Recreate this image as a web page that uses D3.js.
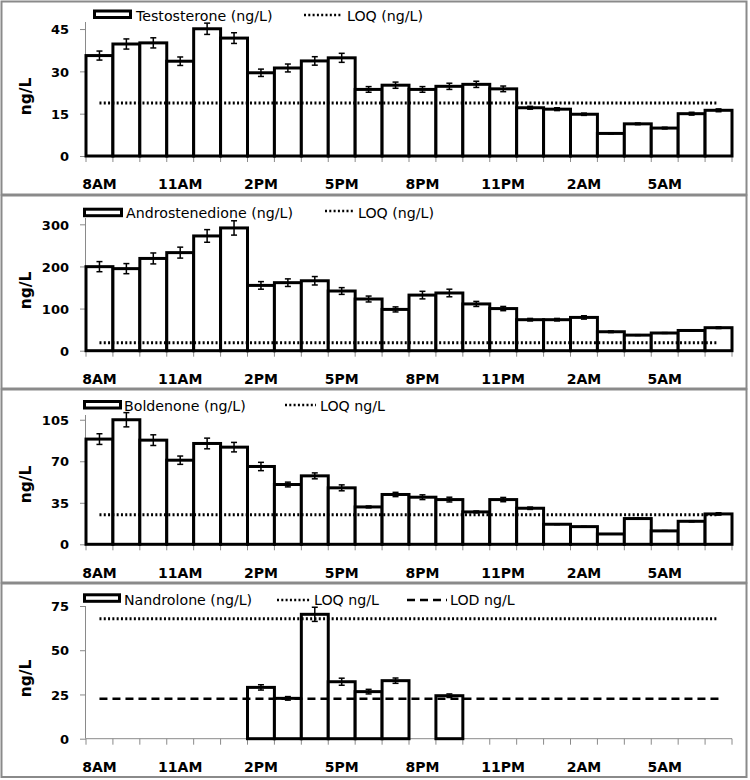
<!DOCTYPE html>
<html>
<head>
<meta charset="utf-8">
<script src="https://cdn.jsdelivr.net/npm/d3@7"></script>
<style>
  html, body { margin: 0; padding: 0; background: #fff; }
  svg { display: block; }
  text { font-family: "DejaVu Sans", sans-serif; }
</style>
</head>
<body>
<svg id="chart" width="750" height="780"></svg>
<script>
// ---------- DATA ----------
const hours = ["8AM","9AM","10AM","11AM","12PM","1PM","2PM","3PM","4PM","5PM","6PM","7PM",
               "8PM","9PM","10PM","11PM","12AM","1AM","2AM","3AM","4AM","5AM","6AM","7AM"];
const shownHourLabels = ["8AM","11AM","2PM","5PM","8PM","11PM","2AM","5AM"];

const testosterone    = [35.6,39.7,40.1,33.6,45.1,41.8,29.5,31.2,33.7,34.8,23.6,25.1,23.6,24.7,25.4,23.8,17.1,16.6,14.8,8.0,11.4,9.9,15.0,16.2];
const testosteroneErr = [1.6,1.8,1.8,1.5,2.0,1.9,1.3,1.4,1.5,1.6,1.0,1.1,1.0,1.1,1.1,1.0,0.5,0.5,0.4,0.2,0.3,0.3,0.5,0.5];
const testosteroneLOQ = 18.8;
const testosteroneTicks = [0,15,30,45];

const androstenedione    = [199.5,194.8,219,232.8,272.4,291.4,155,161.5,166,141.7,122.7,98,132,137,111,100,73.6,73.6,79,45,37,42,48,54.6];
const androstenedioneErr = [12,12,13,13,15,17,9,9,10,8,7,6,9,9,6,5,3,3,4,2,1,1,1,2];
const androstenedioneLOQ = 19;
const androstenedioneTicks = [0,100,200,300];

const boldenone    = [88.7,105,87.8,70.9,85,81.9,65.6,50.4,57.7,47.6,31.5,42,39.7,37.7,27.3,37.7,30.4,16.9,14.9,8.7,21.7,11.3,19.4,25.6];
const boldenoneErr = [4.5,6,4.5,3.5,4.5,4,3.5,2,2.5,2.5,0.8,1.8,2,2,0.8,1.8,1,0.3,0.2,0.2,0.5,0.3,0.5,1];
const boldenoneLOQ = 25;
const boldenoneTicks = [0,35,70,105];

const nandrolone    = [null,null,null,null,null,null,29.0,22.8,70.3,32.2,26.6,32.8,null,24.3,null,null,null,null,null,null,null,null,null,null];
const nandroloneErr = [null,null,null,null,null,null,1.5,1.0,4.0,2.0,1.3,1.5,null,1.0,null,null,null,null,null,null,null,null,null,null];
const nandroloneLOQ = 67.8;
const nandroloneLOD = 22.6;
const nandroloneTicks = [0,25,50,75];

const seriesNames = ["Testosterone (ng/L)","Androstenedione (ng/L)","Boldenone (ng/L)","Nandrolone (ng/L)"];
const loqNames    = ["LOQ (ng/L)","LOQ (ng/L)","LOQ ng/L","LOQ ng/L"];
const lodName     = "LOD ng/L";
const yAxisTitle  = "ng/L";
const axisMax     = [47.5, 315, 109, 75];

// ---------- LAYOUT ----------
const layout = [
  {top:1,   bottom:195, plotTop:22,  base:156,   lg:{rx:94.5,ry:11,  rw:36, tx:136, ty:20.5, lx1:304, lx2:342, ly:15,  ltx:347}, xl:189},
  {top:195, bottom:389, plotTop:218, base:350.7, lg:{rx:84.5,ry:209.2,rw:37, tx:126, ty:217.7,lx1:325, lx2:353, ly:211, ltx:358}, xl:384},
  {top:389, bottom:583, plotTop:415, base:544.3, lg:{rx:84.5,ry:401.5,rw:36, tx:124, ty:410.7,lx1:285, lx2:316, ly:405, ltx:320}, xl:578.3},
  {top:583, bottom:777.5,plotTop:606,base:738.7, lg:{rx:84.5,ry:594.8,rw:35, tx:124, ty:605,  lx1:277, lx2:311, ly:600, ltx:314, dx1:407, dx2:447, dtx:450}, xl:772.3}
];

const panels = [
  {values:testosterone, err:testosteroneErr, loq:testosteroneLOQ, ticks:testosteroneTicks},
  {values:androstenedione, err:androstenedioneErr, loq:androstenedioneLOQ, ticks:androstenedioneTicks},
  {values:boldenone, err:boldenoneErr, loq:boldenoneLOQ, ticks:boldenoneTicks},
  {values:nandrolone, err:nandroloneErr, loq:nandroloneLOQ, lod:nandroloneLOD, ticks:nandroloneTicks}
];

const svg = d3.select("#chart");
const x = d3.scaleBand().domain(hours).range([86, 732]).padding(0);
const gray = "#8a8a8a";

panels.forEach((p, i) => {
  const L = layout[i];
  const g = svg.append("g");
  // panel border
  g.append("rect").attr("x", 1.5).attr("y", L.top + 0.5)
    .attr("width", 745).attr("height", L.bottom - L.top - 1)
    .attr("fill", "none").attr("stroke", gray).attr("stroke-width", 2);

  const y = d3.scaleLinear().domain([0, axisMax[i]]).range([L.base, L.plotTop]);

  // y axis
  const ya = g.append("g").attr("transform", `translate(86,0)`)
    .call(d3.axisLeft(y).tickValues(p.ticks).tickSize(6).tickFormat(d3.format("d")));
  ya.select(".domain").attr("stroke", gray).attr("stroke-width", 1)
    .attr("d", `M-0.5,${L.base}V${L.plotTop}`);
  ya.selectAll(".tick line").attr("stroke", gray);
  ya.selectAll(".tick text").attr("x", -17).attr("dy", "0.36em")
    .style("font-size", "13px").style("font-weight", "bold")
    .style("font-family", "DejaVu Sans").attr("fill", "#000");

  // x axis ticks at band boundaries
  const bounds = hours.map(h => x(h)).concat([x(hours[hours.length-1]) + x.bandwidth()]);
  g.append("line").attr("x1", 86).attr("x2", 732).attr("y1", L.base).attr("y2", L.base)
    .attr("stroke", gray).attr("stroke-width", 1);
  g.selectAll(".xt").data(bounds).enter().append("line")
    .attr("x1", d => d).attr("x2", d => d)
    .attr("y1", L.base).attr("y2", L.base + 6)
    .attr("stroke", gray).attr("stroke-width", 1);

  // x labels
  g.selectAll(".xl").data(shownHourLabels).enter().append("text")
    .attr("x", d => x(d) + x.bandwidth() / 2).attr("y", L.xl)
    .attr("text-anchor", "middle").style("font-size", "14px").style("font-weight", "bold")
    .text(d => d);

  // y axis title
  const cy = L.top + 95.5;
  g.append("text").attr("transform", `translate(25,${cy}) rotate(-90)`)
    .attr("text-anchor", "middle").attr("dy", "0.36em")
    .style("font-size", "15.5px").style("font-weight", "bold").text(yAxisTitle);

  // bars
  const data = hours.map((h, k) => ({h, v: p.values[k], e: p.err[k]})).filter(d => d.v !== null);
  g.selectAll(".bar").data(data).enter().append("rect")
    .attr("x", d => x(d.h)).attr("width", x.bandwidth())
    .attr("y", d => y(d.v)).attr("height", d => L.base - y(d.v))
    .attr("fill", "#fff").attr("stroke", "#000").attr("stroke-width", 3);

  // error bars
  const eb = g.selectAll(".eb").data(data).enter().append("g");
  const cx = d => x(d.h) + x.bandwidth() / 2;
  eb.append("line").attr("x1", cx).attr("x2", cx)
    .attr("y1", d => y(d.v + d.e)).attr("y2", d => y(d.v - d.e))
    .attr("stroke", "#000").attr("stroke-width", 1.5);
  eb.append("line").attr("x1", d => cx(d) - 3).attr("x2", d => cx(d) + 3)
    .attr("y1", d => y(d.v + d.e)).attr("y2", d => y(d.v + d.e))
    .attr("stroke", "#000").attr("stroke-width", 1.5);
  eb.append("line").attr("x1", d => cx(d) - 3).attr("x2", d => cx(d) + 3)
    .attr("y1", d => y(d.v - d.e)).attr("y2", d => y(d.v - d.e))
    .attr("stroke", "#000").attr("stroke-width", 1.5);

  // LOQ line (dotted)
  const xFirst = x(hours[0]) + x.bandwidth() / 2;
  const xLast = x(hours[hours.length - 1]) + x.bandwidth() / 2;
  g.append("line").attr("x1", xFirst).attr("x2", xLast)
    .attr("y1", y(p.loq)).attr("y2", y(p.loq))
    .attr("stroke", "#000").attr("stroke-width", 3).attr("stroke-dasharray", "2,2.3");
  if (p.lod !== undefined) {
    g.append("line").attr("x1", xFirst).attr("x2", xLast)
      .attr("y1", y(p.lod)).attr("y2", y(p.lod))
      .attr("stroke", "#000").attr("stroke-width", 2.5).attr("stroke-dasharray", "8,5");
  }

  // legend
  const lg = L.lg;
  g.append("rect").attr("x", lg.rx).attr("y", lg.ry).attr("width", lg.rw).attr("height", 6.5)
    .attr("fill", "#fff").attr("stroke", "#000").attr("stroke-width", 3);
  g.append("text").attr("x", lg.tx).attr("y", lg.ty).style("font-size", "14.2px").text(seriesNames[i]);
  g.append("line").attr("x1", lg.lx1).attr("x2", lg.lx2).attr("y1", lg.ly).attr("y2", lg.ly)
    .attr("stroke", "#000").attr("stroke-width", 2.5).attr("stroke-dasharray", "2,2.3");
  g.append("text").attr("x", lg.ltx).attr("y", lg.ty).style("font-size", "14.2px").text(loqNames[i]);
  if (p.lod !== undefined) {
    g.append("line").attr("x1", lg.dx1).attr("x2", lg.dx2).attr("y1", lg.ly).attr("y2", lg.ly)
      .attr("stroke", "#000").attr("stroke-width", 2.5).attr("stroke-dasharray", "8,5");
    g.append("text").attr("x", lg.dtx).attr("y", lg.ty).style("font-size", "14.2px").text(lodName);
  }
});
</script>
</body>
</html>
